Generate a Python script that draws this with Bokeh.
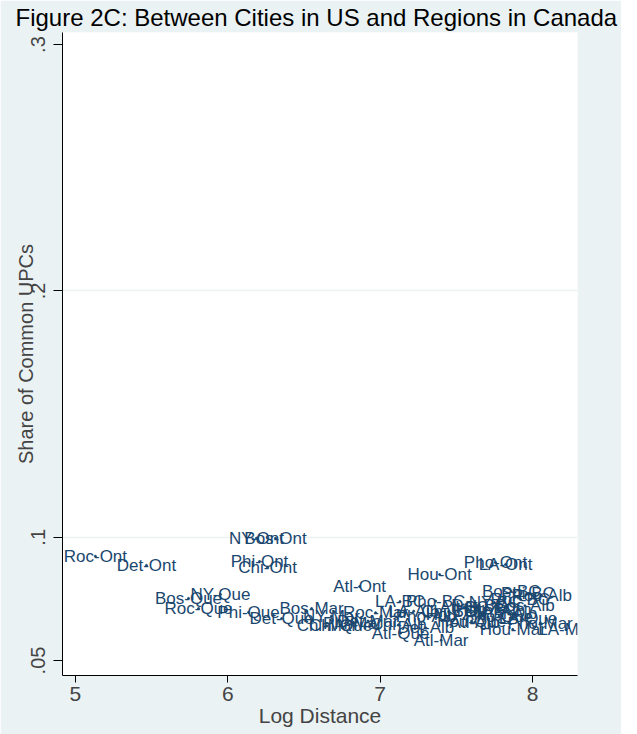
from bokeh.plotting import figure
from bokeh.models import ColumnDataSource, LabelSet, FixedTicker, Range1d
from bokeh.core.properties import value
from bokeh.embed import file_html
from bokeh.resources import INLINE

# ---- data ----
pair_labels = [
    "Roc-Ont", "Det-Ont", "NY-Ont", "Bos-Ont", "Phi-Ont", "Chi-Ont", "Atl-Ont", "Hou-Ont", "Pho-Ont", "LA-Ont",
    "NY-Que", "Bos-Que", "Roc-Que", "Phi-Que", "Det-Que", "Chi-Que", "Atl-Que", "Hou-Que", "Pho-Que", "LA-Que",
    "Bos-Mar", "NY-Mar", "Roc-Mar", "Phi-Mar", "Det-Mar", "Chi-Mar", "Atl-Mar", "Hou-Mar", "Pho-Mar", "LA-Mar",
    "LA-BC", "Pho-BC", "NY-BC", "Bos-BC", "Phi-BC", "Atl-BC", "Chi-BC", "Det-BC", "Hou-BC", "Roc-BC",
    "Roc-Alb", "LA-Alb", "Pho-Alb", "Hou-Alb", "Atl-Alb", "Chi-Alb", "Det-Alb", "NY-Alb", "Bos-Alb", "Phi-Alb",
]
log_distance = [
    5.131, 5.466, 6.188, 6.313, 6.208, 6.261, 6.865, 7.390, 7.757, 7.823,
    5.952, 5.742, 5.808, 6.136, 6.353, 6.740, 7.134, 7.600, 7.780, 7.970,
    6.550, 6.680, 6.970, 6.820, 6.920, 6.650, 7.400, 7.870, 8.050, 8.220,
    7.130, 7.364, 7.750, 7.860, 7.970, 7.550, 7.450, 7.650, 7.700, 7.920,
    8.060, 7.220, 7.300, 7.500, 7.620, 7.120, 7.300, 7.780, 7.950, 7.850,
]
share_common = [
    0.0923, 0.0886, 0.0996, 0.0996, 0.0902, 0.0878, 0.0800, 0.0849, 0.0898, 0.0890,
    0.0768, 0.0752, 0.0711, 0.0695, 0.0670, 0.0643, 0.0611, 0.0660, 0.0680, 0.0672,
    0.0711, 0.0680, 0.0694, 0.0652, 0.0660, 0.0640, 0.0582, 0.0626, 0.0652, 0.0625,
    0.0739, 0.0741, 0.0735, 0.0780, 0.0770, 0.0715, 0.0700, 0.0725, 0.0705, 0.0748,
    0.0762, 0.0700, 0.0680, 0.0685, 0.0655, 0.0645, 0.0632, 0.0700, 0.0722, 0.0690,
]
x_ticks = [5, 6, 7, 8]
y_ticks = [0.05, 0.1, 0.2, 0.3]
y_tick_labels = [".05", ".1", ".2", ".3"]

BG = "#EAF2F3"
NAVY = "#1A476F"
FONT = "Liberation Sans"

source = ColumnDataSource(dict(x=log_distance, y=share_common, label=pair_labels))

p = figure(
    width=621, height=734,
    output_backend="svg", toolbar_location=None,
    x_range=Range1d(4.915, 8.295), y_range=Range1d(0.0439, 0.3049),
    title="Figure 2C: Between Cities in US and Regions in Canada",
    min_border_left=62, min_border_right=44, min_border_bottom=59, min_border_top=0,
)
p.background_fill_color = "white"
p.border_fill_color = BG
p.outline_line_color = None

p.title.text_font = FONT
p.title.text_font_size = "24px"
p.title.text_font_style = "normal"
p.title.text_color = "black"
p.title.align = "left"
p.title.offset = -47
p.title.standoff = 3

# markers (tiny dots) and centred labels
p.scatter("x", "y", source=source, size=2, color=NAVY)
labels = LabelSet(x="x", y="y", text="label", source=source,
                  text_align="center", text_baseline="middle",
                  text_font=value(FONT), text_font_size=value("17px"), text_color=NAVY)
p.add_layout(labels)

# x axis
xa = p.xaxis[0]
xa.ticker = FixedTicker(ticks=x_ticks)
xa.axis_label = "Log Distance"
xa.axis_label_text_font = FONT
xa.axis_label_text_font_size = "21px"
xa.axis_label_text_font_style = "normal"
xa.axis_label_standoff = 0
xa.major_label_text_font = FONT
xa.major_label_text_font_size = "21px"
xa.major_label_standoff = 4
xa.major_tick_out = 7
xa.major_tick_in = 0
xa.minor_tick_out = 0
xa.minor_tick_in = 0
xa.axis_line_color = "black"

# y axis
ya = p.yaxis[0]
ya.ticker = FixedTicker(ticks=y_ticks)
ya.major_label_overrides = {t: s for t, s in zip(y_ticks, y_tick_labels)}
ya.major_label_orientation = "vertical"
ya.axis_label = "Share of Common UPCs"
ya.axis_label_text_font = FONT
ya.axis_label_text_font_size = "20px"
ya.axis_label_text_font_style = "normal"
ya.axis_label_standoff = -8
ya.major_label_text_font = FONT
ya.major_label_text_font_size = "20px"
ya.major_label_standoff = 8
ya.major_tick_out = 9
ya.major_tick_in = 0
ya.minor_tick_out = 0
ya.minor_tick_in = 0
ya.axis_line_color = "black"

p.xgrid.visible = False
p.ygrid.ticker = FixedTicker(ticks=[0.1, 0.2])
p.ygrid.grid_line_color = BG
p.ygrid.grid_line_width = 1.5

open("out.html", "w").write(file_html(p, INLINE))
